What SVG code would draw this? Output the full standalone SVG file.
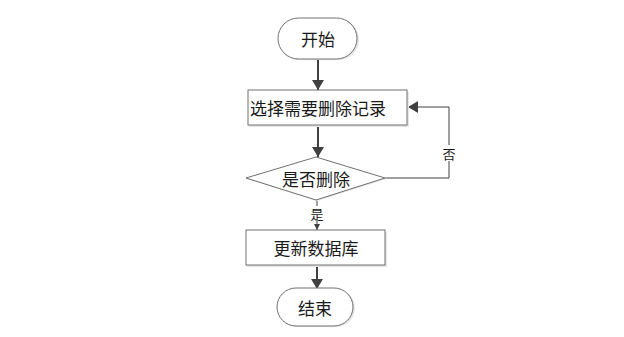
<svg xmlns="http://www.w3.org/2000/svg" width="624" height="337" viewBox="0 0 624 337">
<style>
.sh{fill:#e6e6e6;stroke:none}
.nd{fill:#ffffff;stroke:#707070;stroke-width:1}
.t{font-family:"Noto Sans CJK SC","Liberation Sans",sans-serif;font-size:17px;fill:#1a1a1a;text-anchor:middle;dominant-baseline:central}
.lb{font-family:"Noto Sans CJK SC","Liberation Sans",sans-serif;font-size:13px;fill:#1a1a1a;text-anchor:middle;dominant-baseline:central}
.ln{fill:none;stroke:#404040;stroke-width:2}
.ln1{fill:none;stroke:#404040;stroke-width:1}
</style>
<defs>
<marker id="ah" markerWidth="10" markerHeight="12" refX="10" refY="6" orient="auto" markerUnits="userSpaceOnUse">
<path d="M0,0 L10,6 L0,12 Z" fill="#404040"/>
</marker>
<marker id="ahs" markerWidth="6" markerHeight="6" refX="6" refY="3" orient="auto" markerUnits="userSpaceOnUse">
<path d="M0,0 L6,3 L0,6 Z" fill="#404040"/>
</marker>
</defs>
<rect width="624" height="337" fill="#ffffff"/>
<g id="connectors">
<line class="ln" x1="318" y1="59" x2="318" y2="90" marker-end="url(#ah)"/>
<line class="ln" x1="318" y1="125" x2="318" y2="157" marker-end="url(#ah)"/>
<polyline class="ln1" points="385,178 449,178 449,107 408,107" marker-end="url(#ah)"/>
<rect x="441" y="145" width="16" height="16" fill="#ffffff"/>
<text class="lb" x="449" y="153">否</text>
<line class="ln1" x1="317" y1="200" x2="317" y2="230" marker-end="url(#ahs)"/>
<rect x="309" y="206" width="16" height="15" fill="#ffffff"/>
<text class="lb" x="317" y="213">是</text>
<line class="ln" x1="317" y1="265" x2="317" y2="289" marker-end="url(#ah)"/>
</g>
<g id="start">
<rect class="sh" x="279" y="19" width="80" height="41" rx="20.5"/>
<rect class="nd" x="278" y="18" width="79" height="41" rx="20.5"/>
<text class="t" x="318" y="38">开始</text>
</g>
<g id="select">
<rect class="sh" x="249" y="92" width="160" height="35"/>
<rect class="nd" x="248" y="90" width="159" height="35"/>
<text class="t" x="318" y="107">选择需要删除记录</text>
</g>
<g id="decision">
<polygon class="sh" points="317,158 387,179 317,201 247,179"/>
<polygon class="nd" points="316,157 385,178 316,200 246,178"/>
<text class="t" x="316" y="178">是否删除</text>
</g>
<g id="update">
<rect class="sh" x="247" y="232" width="140" height="35"/>
<rect class="nd" x="246" y="230" width="139" height="35"/>
<text class="t" x="316" y="247">更新数据库</text>
</g>
<g id="end">
<rect class="sh" x="278" y="289" width="77" height="38" rx="19"/>
<rect class="nd" x="277" y="288" width="76" height="38" rx="19"/>
<text class="t" x="315" y="307">结束</text>
</g>
</svg>
